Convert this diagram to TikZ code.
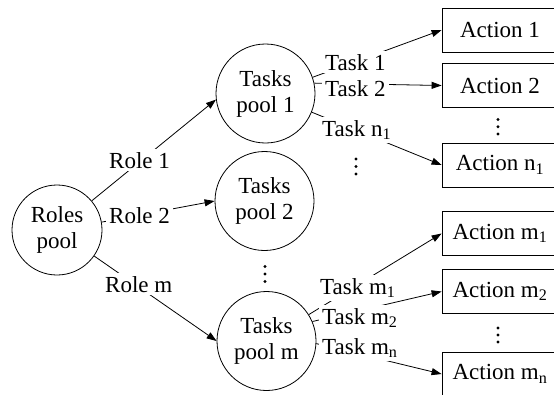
\documentclass[tikz,border=0pt]{standalone}
\usepackage{fontspec}
\setmainfont{Liberation Serif}
\usetikzlibrary{arrows.meta}
\begin{document}
\begin{tikzpicture}[x=1pt,y=-1pt,
  font=\fontsize{23}{26}\selectfont,
  pool/.style={draw, circle, line width=0.8pt, minimum size=99pt, inner sep=0pt, align=center},
  act/.style={draw, rectangle, line width=0.8pt, minimum width=116pt, minimum height=44pt, inner sep=0pt},
  lbl/.style={fill=white, inner sep=3pt, anchor=base west},
  conn/.style={line width=0.8pt, -{Triangle[length=10pt,width=7pt]}},
  dotfill/.style={fill=black}]
\useasboundingbox (0,0) rectangle (554,394);
\clip (0,0) rectangle (554,394);
% pools
\node[pool, minimum size=90pt] (roles) at (57,230) {Roles\\pool};
\node[pool] (p1) at (265.5,93.5) {Tasks\\pool 1};
\node[pool] (p2) at (264.5,201) {Tasks\\pool 2};
\node[pool] (pm) at (266.5,341) {Tasks\\pool m};
% actions
\node[act] (a1)  at (500,30)    {Action 1};
\node[act] (a2)  at (500,85.5)  {Action 2};
\node[act] (an1) at (500,165)   {Action n\textsubscript{1}};
\node[act] (am1) at (500,233.5) {Action m\textsubscript{1}};
\node[act] (am2) at (500,291.5) {Action m\textsubscript{2}};
\node[act] (amn) at (500,374)   {Action m\textsubscript{n}};
% connectors
\draw[conn] (roles.40)  -- (p1.187);
\draw[conn] (roles.10)  -- (p2.180);
\draw[conn] (roles.-35) -- (pm.180);
\draw[conn] (p1.19)  -- (a1.west);
\draw[conn] (p1.12)  -- (a2.west);
\draw[conn] (p1.-22) -- (an1.west);
\draw[conn] (pm.32)  -- (am1.west);
\draw[conn] (pm.23)  -- (am2.west);
\draw[conn] (pm.-3)  -- (amn.west);
% labels
\node[lbl] (r1) at (106,168) {Role 1};
\node[lbl] (r2) at (106,223) {Role 2};
\node[lbl] (rm) at (102,292) {Role m};
\node[lbl] (t1)  at (322,70)  {Task 1};
\node[lbl] (t2)  at (322,96)  {Task 2};
\node[lbl] (tn1) at (319,136) {Task n\textsubscript{1}};
\node[lbl] (tm1) at (317,294) {Task m\textsubscript{1}};
\node[lbl] (tm2) at (319,324) {Task m\textsubscript{2}};
\node[lbl] (tmn) at (319,354) {Task m\textsubscript{n}};
% vertical dots
\foreach \y in {119.5,126.7,134} \fill[dotfill] (498,\y) circle (1.6);
\foreach \y in {328,335,342} \fill[dotfill] (498,\y) circle (1.6);
\foreach \y in {159,166.5,174} \fill[dotfill] (356,\y) circle (1.6);
\foreach \y in {266.5,274,281.5} \fill[dotfill] (265,\y) circle (1.6);
\end{tikzpicture}
\end{document}
